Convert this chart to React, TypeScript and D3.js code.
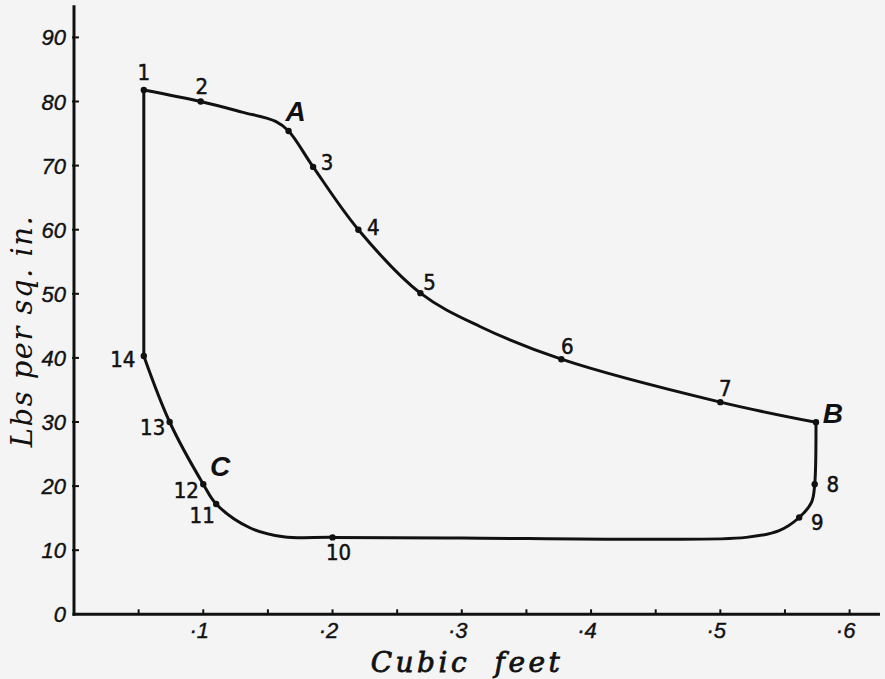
import React, { useEffect, useRef } from "react";
import * as d3 from "d3";

// Indicator diagram: pressure (lbs per sq. in.) against volume (cubic feet)

// upper line: admission from 1 through cut-off A, expansion to B
const upperVolume = [0.054, 0.098, 0.13, 0.156, 0.166, 0.185, 0.22, 0.268, 0.314, 0.377, 0.5, 0.574];
const upperPressure = [81.8, 80, 78.35, 76.9, 75.4, 69.8, 60, 50.1, 44.9, 39.8, 33.1, 29.95];

// lower line: release at B, exhaust along the back-pressure line, compression from C to 14
const lowerVolume = [0.574, 0.573, 0.5706, 0.561, 0.545, 0.52, 0.45, 0.3, 0.2, 0.162, 0.136, 0.11, 0.1, 0.074, 0.054];
const lowerPressure = [29.95, 20.3, 17.5, 15.1, 13, 12, 11.7, 11.9, 12, 12.1, 13.5, 17.2, 20.3, 30, 40.3];

// admission line, 14 up to 1
const admissionVolume = [0.054, 0.054];
const admissionPressure = [40.3, 81.8];

// numbered points
const pointNames = ["1", "2", "A", "3", "4", "5", "6", "7", "B", "8", "9", "10", "11", "12", "13", "14"];
const pointVolume = [0.054, 0.098, 0.166, 0.185, 0.22, 0.268, 0.377, 0.5, 0.574, 0.573, 0.561, 0.2, 0.11, 0.1, 0.074, 0.054];
const pointPressure = [81.8, 80, 75.4, 69.8, 60, 50.1, 39.8, 33.1, 29.95, 20.3, 15.1, 12, 17.2, 20.3, 30, 40.3];

// letter C sits beside the curve, without a dot
const extraNames = ["C"];
const extraVolume = [0.113];
const extraPressure = [23];

const yTicks = [0, 10, 20, 30, 40, 50, 60, 70, 80, 90];
const xTicks = [0.1, 0.2, 0.3, 0.4, 0.5, 0.6];
const xTickLabels = ["·1", "·2", "·3", "·4", "·5", "·6"];
const xMinorTicks = [0.05, 0.15, 0.25, 0.35, 0.45, 0.55];

// label offsets from each dot (px)
const labelDx = [0, 1, 7, 14, 15, 9, 6, 5, 17, 18, 18, 6, -14, -17, -17, -21];
const labelDy = [-17, -15, -19, -4, -2, -11, -13, -14, -9, 0, 5, 15, 11, 6, 5, 4];

const W = 885;
const H = 679;

const App: React.FC = () => {
  const svgRef = useRef<SVGSVGElement>(null);

  useEffect(() => {
    document.body.style.margin = "0";
    if (!svgRef.current) return;
    const svg = d3.select(svgRef.current);
    svg.selectAll("*").remove();

    const x = d3.scaleLinear().domain([0, 0.6]).range([74, 849.6]);
    const y = d3.scaleLinear().domain([0, 90]).range([614.3, 37.4]);

    const ink = "#111";
    const tickFont = "'Liberation Sans', Arial, sans-serif";
    const numFont = "'Liberation Sans Narrow', 'DejaVu Sans Condensed', 'Liberation Sans', sans-serif";

    svg.append("rect").attr("width", W).attr("height", H).attr("fill", "#f4f4f4");

    // axes
    const axes = svg.append("g").attr("stroke", ink).attr("stroke-width", 3).attr("fill", "none");
    axes.append("line")
      .attr("x1", x(0)).attr("x2", x(0))
      .attr("y1", y(0) + 1.5).attr("y2", y(95));
    axes.append("line")
      .attr("x1", x(0) - 1.5).attr("x2", x(0.6235))
      .attr("y1", y(0)).attr("y2", y(0));

    // y ticks
    svg.append("g").selectAll("line").data(yTicks.slice(1)).join("line")
      .attr("x1", x(0) - 2).attr("x2", x(0) + 5)
      .attr("y1", (d) => y(d)).attr("y2", (d) => y(d))
      .attr("stroke", ink).attr("stroke-width", 2);

    svg.append("g").selectAll("text").data(yTicks).join("text")
      .attr("x", x(0) - 8)
      .attr("y", (d) => y(d) + 8)
      .attr("text-anchor", "end")
      .style("font-family", tickFont)
      .style("font-style", "italic")
      .style("font-size", "22px")
      .attr("fill", ink)
      .attr("stroke", ink)
      .attr("stroke-width", 0.4)
      .text((d) => String(d));

    // x ticks
    svg.append("g").selectAll("line").data([...xMinorTicks, ...xTicks]).join("line")
      .attr("x1", (d) => x(d)).attr("x2", (d) => x(d))
      .attr("y1", y(0)).attr("y2", y(0) - 5)
      .attr("stroke", ink).attr("stroke-width", 2);

    svg.append("g").selectAll("text").data(xTicks).join("text")
      .attr("x", (d) => x(d) - 4)
      .attr("y", y(0) + 24)
      .attr("text-anchor", "middle")
      .style("font-family", tickFont)
      .style("font-style", "italic")
      .style("font-size", "22px")
      .attr("fill", ink)
      .attr("stroke", ink)
      .attr("stroke-width", 0.4)
      .text((_, i) => xTickLabels[i]);

    // axis titles
    svg.append("text")
      .attr("x", 467)
      .attr("y", 672)
      .attr("text-anchor", "middle")
      .style("font-family", "'DejaVu Serif', serif")
      .style("font-style", "italic")
      .style("font-size", "28px")
      .style("letter-spacing", "3.5px")
      .style("word-spacing", "12px")
      .attr("fill", ink)
      .attr("stroke", ink)
      .attr("stroke-width", 0.8)
      .text("Cubic feet");

    svg.append("text")
      .attr("transform", "translate(32, 331) rotate(-90)")
      .attr("text-anchor", "middle")
      .style("font-family", "'DejaVu Serif', serif")
      .style("font-style", "italic")
      .style("font-size", "29px")
      .style("letter-spacing", "1.5px")
      .attr("fill", ink)
      .text("Lbs per sq. in.");

    // diagram outline
    const line = d3.line<[number, number]>()
      .x((d) => x(d[0]))
      .y((d) => y(d[1]))
      .curve(d3.curveCatmullRom.alpha(0.5));

    const pieces: [number, number][][] = [
      upperVolume.map((v, i) => [v, upperPressure[i]]),
      lowerVolume.map((v, i) => [v, lowerPressure[i]]),
      admissionVolume.map((v, i) => [v, admissionPressure[i]]),
    ];
    svg.append("g").selectAll("path").data(pieces).join("path")
      .attr("d", (d) => line(d))
      .attr("fill", "none")
      .attr("stroke", ink)
      .attr("stroke-width", 3)
      .attr("stroke-linejoin", "round")
      .attr("stroke-linecap", "round");

    // dots
    svg.append("g").selectAll("circle").data(pointNames).join("circle")
      .attr("cx", (_, i) => x(pointVolume[i]))
      .attr("cy", (_, i) => y(pointPressure[i]))
      .attr("r", 3.2)
      .attr("fill", ink);

    // point labels
    const isLetter = (s: string) => /[A-Z]/.test(s);
    svg.append("g").selectAll("text").data(pointNames).join("text")
      .attr("x", (_, i) => x(pointVolume[i]) + labelDx[i])
      .attr("y", (_, i) => y(pointPressure[i]) + labelDy[i])
      .attr("text-anchor", "middle")
      .attr("dominant-baseline", "central")
      .style("font-family", (d) => (isLetter(d) ? tickFont : numFont))
      .style("font-style", (d) => (isLetter(d) ? "italic" : "normal"))
      .style("font-weight", (d) => (isLetter(d) ? "bold" : "normal"))
      .style("font-size", (d) => (isLetter(d) ? "28px" : "22px"))
      .attr("fill", ink)
      .attr("stroke", ink)
      .attr("stroke-width", (d) => (isLetter(d) ? 0 : 0.5))
      .text((d) => d);

    svg.append("g").selectAll("text").data(extraNames).join("text")
      .attr("x", (_, i) => x(extraVolume[i]))
      .attr("y", (_, i) => y(extraPressure[i]))
      .attr("text-anchor", "middle")
      .attr("dominant-baseline", "central")
      .style("font-family", tickFont)
      .style("font-style", "italic")
      .style("font-weight", "bold")
      .style("font-size", "28px")
      .attr("fill", ink)
      .text((d) => d);
  }, []);

  return <svg ref={svgRef} width={W} height={H} style={{ display: "block" }} />;
};

export default App;
